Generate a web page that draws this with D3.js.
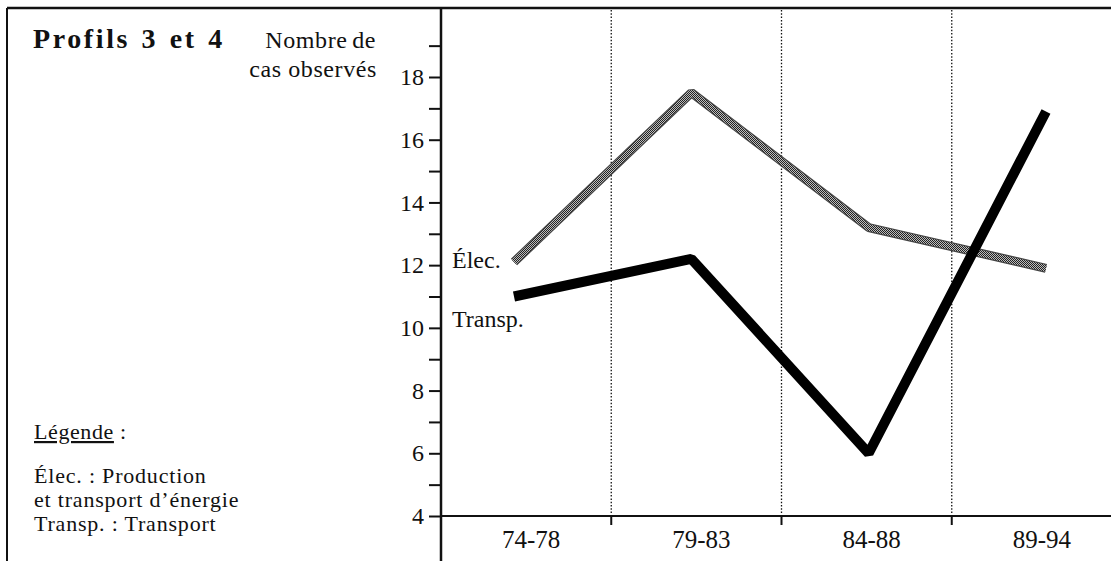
<!DOCTYPE html>
<html>
<head>
<meta charset="utf-8">
<script src="https://cdn.jsdelivr.net/npm/d3@7"></script>
<style>
  body { margin: 0; background: #fff; }
  svg text { font-family: "Liberation Serif", "Times New Roman", serif; fill: #111; }
</style>
</head>
<body>
<div id="chart"></div>
<script>
const categories = ["74-78", "79-83", "84-88", "89-94"];
const elec = [12.1, 17.5, 13.2, 11.9];
const transp = [11.0, 12.2, 6.0, 16.9];
const majorTicks = [4, 6, 8, 10, 12, 14, 16, 18];
const minorTicks = [5, 7, 9, 11, 13, 15, 17, 19];
const legendLines = ["Élec. : Production", "et transport d’énergie", "Transp. : Transport"];

const width = 1111;
const height = 561;

const svg = d3.select("#chart")
    .append("svg")
    .attr("width", width)
    .attr("height", height);

// dotted grey texture for the Élec. line
const defs = svg.append("defs");
const pat = defs.append("pattern")
    .attr("id", "hatch")
    .attr("patternUnits", "userSpaceOnUse")
    .attr("width", 2).attr("height", 2);
pat.append("rect").attr("width", 2).attr("height", 2).attr("fill", "#bdbdbd");
pat.append("rect").attr("width", 1).attr("height", 1).attr("fill", "#222");
pat.append("rect").attr("x", 1).attr("y", 1).attr("width", 1).attr("height", 1).attr("fill", "#222");

const x = d3.scaleBand()
    .domain(categories)
    .range([441, 1122]);

const xp = d3.scalePoint()
    .domain(categories)
    .range([514, 1046]);

const y = d3.scaleLinear()
    .domain([4, 18])
    .range([516, 77]);

// frame
svg.append("line").attr("x1", 7).attr("x2", width).attr("y1", 8).attr("y2", 8)
    .attr("stroke", "#111").attr("stroke-width", 2.5);
svg.append("line").attr("x1", 7).attr("x2", 7).attr("y1", 8).attr("y2", height)
    .attr("stroke", "#111").attr("stroke-width", 2);

// dotted separators
categories.slice(1).forEach(c => {
    svg.append("line")
        .attr("x1", x(c)).attr("x2", x(c))
        .attr("y1", 10).attr("y2", y(4))
        .attr("stroke", "#111")
        .attr("stroke-width", 1.3)
        .attr("stroke-dasharray", "1.5,1.8");
    svg.append("line")
        .attr("x1", x(c)).attr("x2", x(c))
        .attr("y1", y(4)).attr("y2", y(4) + 9)
        .attr("stroke", "#111").attr("stroke-width", 2);
});

// y axis
const yAxis = svg.append("g")
    .attr("transform", "translate(441,0)")
    .call(d3.axisLeft(y).tickValues(majorTicks).tickSize(12).tickPadding(5));
yAxis.select(".domain").remove();
yAxis.selectAll("line").attr("stroke", "#111").attr("stroke-width", 2);
yAxis.selectAll("text").style("font-size", "24px").attr("fill", "#111")
    .style("font-family", "Liberation Serif");

const yMinor = svg.append("g")
    .attr("transform", "translate(441,0)")
    .call(d3.axisLeft(y).tickValues(minorTicks).tickSize(12).tickFormat(""));
yMinor.select(".domain").remove();
yMinor.selectAll("line").attr("stroke", "#111").attr("stroke-width", 2);

svg.append("line").attr("x1", 441).attr("x2", 441).attr("y1", 8).attr("y2", height)
    .attr("stroke", "#111").attr("stroke-width", 2.5);

// x axis
svg.append("line").attr("x1", 441).attr("x2", width).attr("y1", y(4)).attr("y2", y(4))
    .attr("stroke", "#111").attr("stroke-width", 2);
const xAxis = svg.append("g")
    .attr("transform", `translate(5,${y(4)})`)
    .call(d3.axisBottom(x).tickSize(0));
xAxis.select(".domain").remove();
xAxis.selectAll("text")
    .attr("y", 32).attr("dy", null)
    .style("font-size", "25px").attr("fill", "#111")
    .style("font-family", "Liberation Serif");

// lines
const line = d3.line()
    .x((d, i) => xp(categories[i]))
    .y(d => y(d));

svg.append("path")
    .datum(elec)
    .attr("d", line)
    .attr("fill", "none")
    .attr("stroke", "#444")
    .attr("stroke-width", 9)
    .attr("stroke-linejoin", "bevel");
svg.append("path")
    .datum(elec)
    .attr("d", line)
    .attr("fill", "none")
    .attr("stroke", "url(#hatch)")
    .attr("stroke-width", 6.5)
    .attr("stroke-linejoin", "bevel");

svg.append("path")
    .datum(transp)
    .attr("d", line)
    .attr("fill", "none")
    .attr("stroke", "#000")
    .attr("stroke-width", 10)
    .attr("stroke-linejoin", "bevel");

// series labels
svg.append("text").attr("x", 452).attr("y", 268)
    .style("font-size", "24px").text("Élec.");
svg.append("text").attr("x", 452).attr("y", 327)
    .style("font-size", "24px").text("Transp.");

// title block
svg.append("text").attr("x", 33).attr("y", 48)
    .style("font-size", "28px").style("font-weight", "bold")
    .style("letter-spacing", "2.6px")
    .attr("word-spacing", "2px")
    .text("Profils 3 et 4");
svg.append("text").attr("x", 376).attr("y", 48).attr("text-anchor", "end")
    .style("font-size", "24px").style("letter-spacing", "0.6px")
    .attr("word-spacing", "-2px").text("Nombre de");
svg.append("text").attr("x", 377).attr("y", 77).attr("text-anchor", "end")
    .style("font-size", "24px").style("letter-spacing", "0.6px")
    .text("cas observés");

// legend
svg.append("text").attr("x", 34).attr("y", 439)
    .style("font-size", "22px").style("letter-spacing", "0.6px")
    .html('<tspan text-decoration="underline">Légende</tspan> :');
legendLines.forEach((t, i) => {
    svg.append("text")
        .attr("x", 34).attr("y", 483 + i * 24)
        .style("font-size", "22px")
        .style("letter-spacing", "0.8px")
        .text(t);
});
</script>
</body>
</html>
